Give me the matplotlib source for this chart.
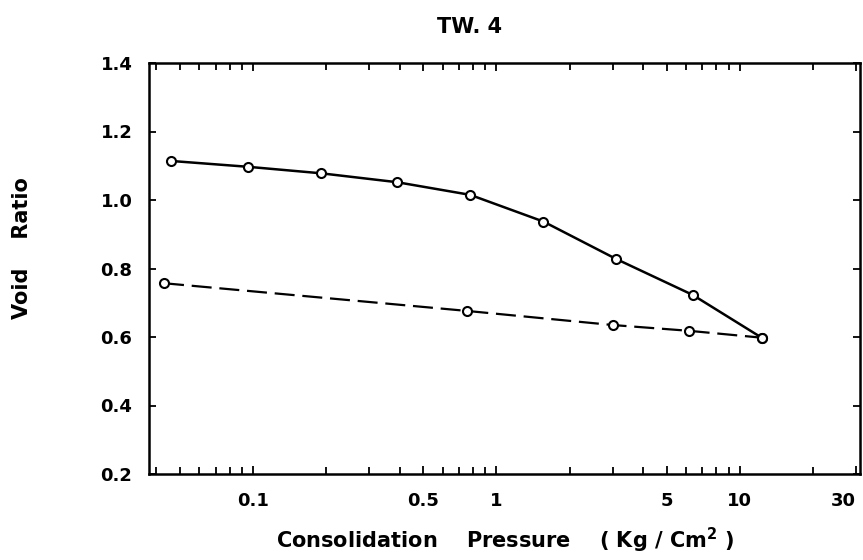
import numpy as np
import matplotlib
matplotlib.use("Agg")
import matplotlib.pyplot as plt
from matplotlib.ticker import LogLocator, FixedLocator, FixedFormatter, NullFormatter

# Consolidation test, sample TW. 4
# loading branch (solid)
load_p = [0.046, 0.095, 0.19, 0.39, 0.78, 1.56, 3.1, 6.4, 12.3]
load_e = [1.114, 1.097, 1.078, 1.052, 1.015, 0.937, 0.828, 0.723, 0.598]
# unloading / rebound branch (dashed)
unload_p = [0.043, 0.76, 3.0, 6.2, 12.3]
unload_e = [0.757, 0.676, 0.635, 0.618, 0.598]

x_ticks = [0.1, 0.5, 1, 5, 10, 30]
x_labels = ["0.1", "0.5", "1", "5", "10", "30"]
y_ticks = [0.2, 0.4, 0.6, 0.8, 1.0, 1.2, 1.4]
y_labels = ["0.2", "0.4", "0.6", "0.8", "1.0", "1.2", "1.4"]

plt.rcParams["font.family"] = ["DejaVu Sans"]
plt.rcParams["font.weight"] = "bold"

fig = plt.figure(figsize=(8.63, 5.6), dpi=100)
ax = fig.add_axes([149 / 863, 1 - 474 / 560, (860 - 149) / 863, (474 - 63) / 560])

ax.plot(load_p, load_e, color="black", lw=1.8, marker="o", ms=6.5,
        mfc="white", mec="black", mew=1.5)
ax.plot(unload_p, unload_e, color="black", lw=1.6, dashes=(9, 3.5), marker="o", ms=6.5,
        mfc="white", mec="black", mew=1.5)

ax.set_xscale("log")
ax.set_xlim(0.0373, 31.2)
ax.set_ylim(0.2, 1.4)

ax.xaxis.set_major_locator(FixedLocator(x_ticks))
ax.xaxis.set_major_formatter(FixedFormatter(x_labels))
ax.xaxis.set_minor_locator(LogLocator(base=10, subs=np.arange(2, 10)))
ax.xaxis.set_minor_formatter(NullFormatter())
ax.yaxis.set_major_locator(FixedLocator(y_ticks))
ax.yaxis.set_major_formatter(FixedFormatter(y_labels))

ax.tick_params(axis="both", which="both", direction="in", top=True, right=True,
               width=1.3)
ax.tick_params(axis="x", which="major", length=6, pad=13, labelsize=13)
ax.tick_params(axis="x", which="minor", length=5)
ax.tick_params(axis="y", which="major", length=5, pad=12, labelsize=13)
for s in ax.spines.values():
    s.set_linewidth(1.8)

# keep the last label ("30") inside the figure
ax.get_xticklabels()[-1].set_horizontalalignment("right")

fig.text(470 / 863, 1 - 27 / 560, "TW. 4", ha="center", va="center",
         fontsize=15, fontweight="bold")
fig.text(22 / 863, 1 - 248 / 560, "Void    Ratio", ha="center", va="center",
         rotation=90, fontsize=15, fontweight="bold")
fig.text(505 / 863, 1 - 540 / 560,
         r"Consolidation    Pressure    ( Kg / Cm$^{\mathbf{2}}$ )",
         ha="center", va="center", fontsize=15, fontweight="bold")

fig.savefig("out.png", dpi=100)
